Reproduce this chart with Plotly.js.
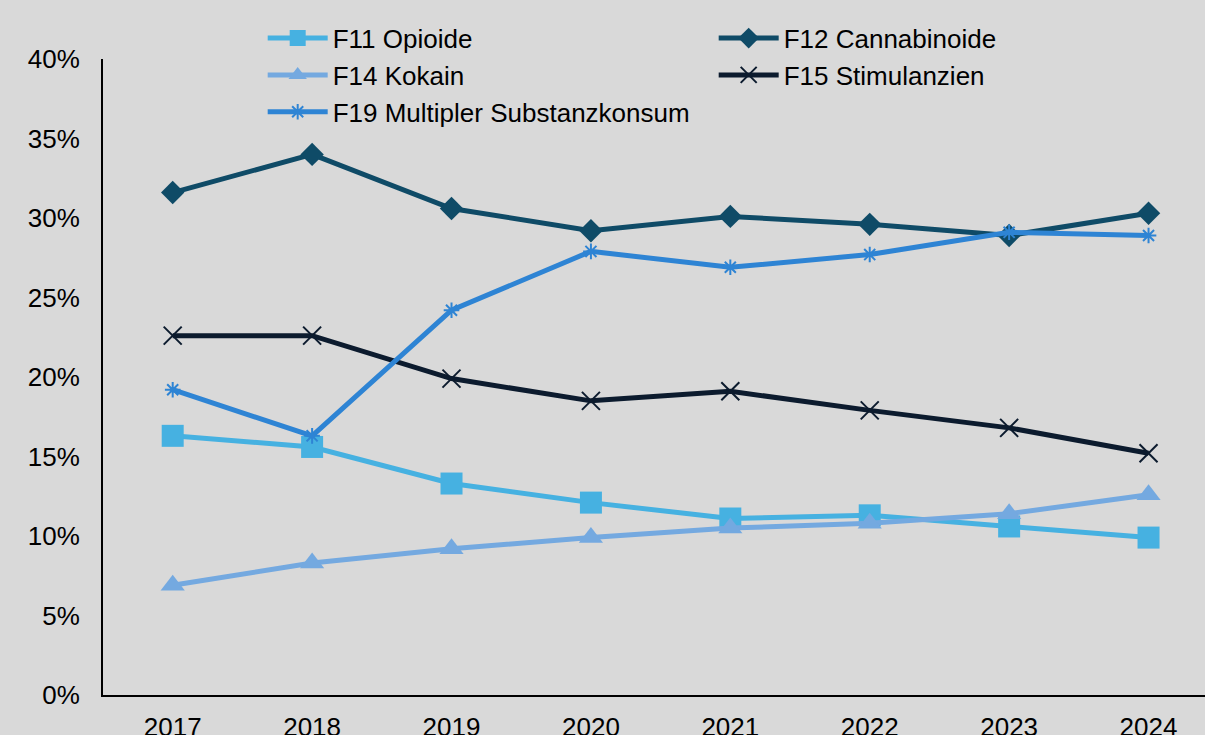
<!DOCTYPE html>
<html>
<head>
<meta charset="utf-8">
<script src="https://cdn.plot.ly/plotly-3.0.1.min.js"></script>
<style>html,body{margin:0;padding:0;background:#d9d9d9;}</style>
</head>
<body>
<div id="chart" style="width:1205px;height:735px;"></div>
<script>
const years = ["2017","2018","2019","2020","2021","2022","2023","2024"];
const f11 = [16.3, 15.6, 13.3, 12.1, 11.1, 11.3, 10.6, 9.9];
const f12 = [31.6, 34.0, 30.6, 29.2, 30.1, 29.6, 28.9, 30.3];
const f14 = [6.9, 8.3, 9.2, 9.9, 10.5, 10.8, 11.4, 12.6];
const f15 = [22.6, 22.6, 19.9, 18.5, 19.1, 17.9, 16.8, 15.2];
const f19 = [19.2, 16.3, 24.2, 27.9, 26.9, 27.7, 29.1, 28.9];
const names = ["F11 Opioide","F12 Cannabinoide","F14 Kokain","F15 Stimulanzien","F19 Multipler Substanzkonsum"];
const yTickVals = [0,5,10,15,20,25,30,35,40];
const yTickText = ["0%","5%","10%","15%","20%","25%","30%","35%","40%"];

const traces = [
  {name:names[0], y:f11, color:"#46B1E1", symbol:"square", size:22},
  {name:names[1], y:f12, color:"#0F4B67", symbol:"diamond", size:18},
  {name:names[2], y:f14, color:"#74A9E0", symbol:"triangle-up", size:21},
  {name:names[3], y:f15, color:"#0C1B2E", symbol:"x-thin-open", size:18, mline:2},
  {name:names[4], y:f19, color:"#2E84D4", symbol:"asterisk-open", size:13, mline:2}
].map(t => ({
  type:"scatter", mode:"lines+markers", x:years, y:t.y, name:t.name,
  line:{color:t.color, width:5},
  marker:{symbol:t.symbol, size:t.size, color:t.color, line:{color:t.color, width:t.mline||0}},
  hoverinfo:"skip"
}));

const layout = {
  width:1205, height:735,
  paper_bgcolor:"#d9d9d9", plot_bgcolor:"#d9d9d9",
  margin:{l:103, r:0, t:59, b:40, autoexpand:false},
  font:{family:"Liberation Sans, Arial, sans-serif", size:26, color:"#000"},
  showlegend:true,
  legend:{orientation:"h", xref:"container", yref:"container", x:0.218, xanchor:"left", y:0.980, yanchor:"top",
          entrywidth:376, entrywidthmode:"pixels", itemwidth:60,
          bgcolor:"rgba(0,0,0,0)", font:{size:26}, traceorder:"normal", tracegroupgap:0},
  xaxis:{type:"category", range:[-0.5, 7.405], showline:true, linecolor:"#000", linewidth:2,
         showgrid:false, zeroline:false, ticks:"outside", ticklen:8, tickcolor:"rgba(0,0,0,0)",
         tickfont:{size:26}, fixedrange:true},
  yaxis:{range:[0,40], tickmode:"array", tickvals:yTickVals, ticktext:yTickText,
         showline:true, linecolor:"#000", linewidth:2, showgrid:false, zeroline:false,
         ticks:"outside", ticklen:16, tickcolor:"rgba(0,0,0,0)", tickfont:{size:26}, fixedrange:true}
};
Plotly.newPlot("chart", traces, layout, {displayModeBar:false, staticPlot:true});
</script>
</body>
</html>
